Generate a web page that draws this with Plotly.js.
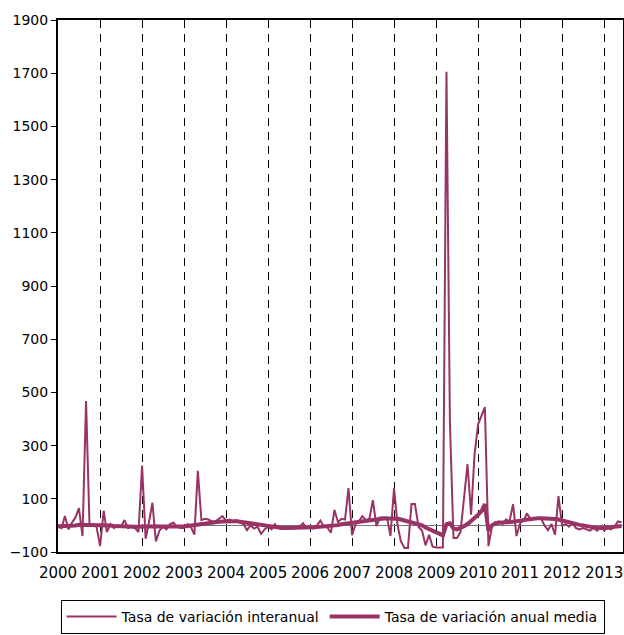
<!DOCTYPE html>
<html>
<head>
<meta charset="utf-8">
<script src="https://cdn.plot.ly/plotly-3.0.1.min.js"></script>
<style>html,body{margin:0;padding:0;background:#fff;}#chart{width:624px;height:635px;}</style>
</head>
<body>
<div id="chart"></div>
<script>
// Monthly series, starting January 2000
const startYear = 2000;
const seriesNames = ["Tasa de variación interanual", "Tasa de variación anual media"];
const yearTicks = [2000, 2001, 2002, 2003, 2004, 2005, 2006, 2007, 2008, 2009, 2010, 2011, 2012, 2013];

const interanual = [
  -5, -10, 35, -15, 10, 30, 65, -40, 468, 0, 5, -5,            // 2000
  -78, 55, -25, 5, -10, 0, -5, 20, -10, -5, -10, -25,          // 2001
  225, -50, 10, 85, -60, -20, -5, -15, 5, 10, -5, -10,          // 2002
  -10, 5, -5, -35, 205, 20, 25, 22, 15, 15, 25, 35,             // 2003
  18, 22, 15, 20, 10, 5, -18, 0, -12, -5, -32, -15,             // 2004
  -5, -15, 5, -10, -12, -10, -8, -12, -10, -5, 8, -10,          // 2005
  -8, -12, 0, 18, -5, -8, -27, 58, 12, 25, 22, 140,             // 2006
  -37, 5, 15, 35, 20, 25, 95, -3, 30, 30, 30, -40,              // 2007
  140, 0, -60, -85, -85, 80, 80, -5, -20, -75, -35, -80,        // 2008
  -83, -83, -83, 1705, 385, -47, -47, -25, 100, 230, 40, 265,   // 2009
  380, 415, 445, -78, -5, 10, 15, 5, 22, 15, 80, -40,           // 2010
  8, 18, 45, 25, 28, 28, 28, 0, -18, 5, -35, 110,               // 2011
  0, 5, -5, 10, -10, -15, -10, -15, -20, -10, -20, -8,          // 2012
  -18, -10, -15, -5, 15, 12                                      // 2013
];

const anualMedia = [
  -3, -3, -2, -2, -1, 0, 2, 2, 3, 3, 2, 2,                      // 2000
  2, 1, 0, 0, -2, -3, -3, -4, -4, -5, -5, -5,                   // 2001
  -4, -3, -3, -2, -3, -4, -5, -5, -4, -4, -5, -5,               // 2002
  -4, -2, 0, 2, 4, 6, 8, 10, 11, 12, 14, 15,                    // 2003
  16, 17, 17, 16, 14, 12, 10, 7, 4, 2, 0, -3,                   // 2004
  -5, -7, -8, -9, -10, -10, -10, -10, -10, -9, -9, -8,          // 2005
  -8, -7, -6, -5, -5, -4, -3, -1, 1, 4, 6, 8,                   // 2006
  10, 12, 14, 16, 18, 20, 22, 24, 25, 26, 26, 26,               // 2007
  26, 25, 22, 18, 14, 12, 10, 6, 0, -8, -15, -22,               // 2008
  -25, -32, -38, 5, 8, -12, -15, -10, -3, 5, 15, 28,            // 2009
  40, 55, 80, -20, 0, 8, 10, 12, 12, 12, 15, 15,                // 2010
  18, 20, 22, 25, 27, 27, 27, 27, 27, 26, 24, 22,               // 2011
  18, 15, 12, 8, 5, 2, 0, -3, -5, -8, -10, -10,                 // 2012
  -10, -8, -7, -5, -3, -2                                        // 2013
];

const months = interanual.map((_, i) => {
  const y = startYear + Math.floor(i / 12);
  const m = (i % 12) + 1;
  return y + "-" + String(m).padStart(2, "0") + "-01";
});

const color = "#993366";
const font = "DejaVu Sans, Arial, sans-serif";

const traces = [
  { x: months, y: interanual, type: "scatter", mode: "lines", name: seriesNames[0],
    line: { color: color, width: 2 } },
  { x: months, y: anualMedia, type: "scatter", mode: "lines", name: seriesNames[1],
    line: { color: color, width: 4 } }
];

const layout = {
  width: 624, height: 635,
  margin: { l: 58, r: 1, t: 20, b: 78 },
  paper_bgcolor: "#fff", plot_bgcolor: "#fff",
  font: { family: font, color: "#000", size: 14 },
  showlegend: true,
  legend: {
    orientation: "h", x: 0.486, xanchor: "center", y: -0.09, yanchor: "top",
    bordercolor: "#000", borderwidth: 1, bgcolor: "#fff",
    font: { family: font, size: 14, color: "#000" },
    itemwidth: 50, tracegroupgap: 0
  },
  xaxis: {
    type: "date",
    range: ["2000-01-01", "2013-06-14"],
    tickvals: yearTicks.map(y => y + "-01-01"),
    ticktext: yearTicks.map(String),
    ticks: "", ticklabelstandoff: 6,
    tickfont: { family: font, size: 15, color: "#000" },
    showgrid: true, gridcolor: "#000", gridwidth: 1, griddash: "8px,6px",
    showline: true, linecolor: "#000", linewidth: 2, mirror: true,
    zeroline: false, fixedrange: true
  },
  yaxis: {
    range: [-100, 1900],
    tick0: -100, dtick: 200,
    ticks: "outside", ticklen: 5, tickcolor: "#000", tickwidth: 1,
    tickfont: { family: font, size: 14, color: "#000" },
    showgrid: false,
    showline: true, linecolor: "#000", linewidth: 2, mirror: true,
    zeroline: true, zerolinecolor: "#777", zerolinewidth: 1,
    fixedrange: true
  }
};

Plotly.newPlot("chart", traces, layout, { displayModeBar: false, staticPlot: true });
</script>
</body>
</html>
